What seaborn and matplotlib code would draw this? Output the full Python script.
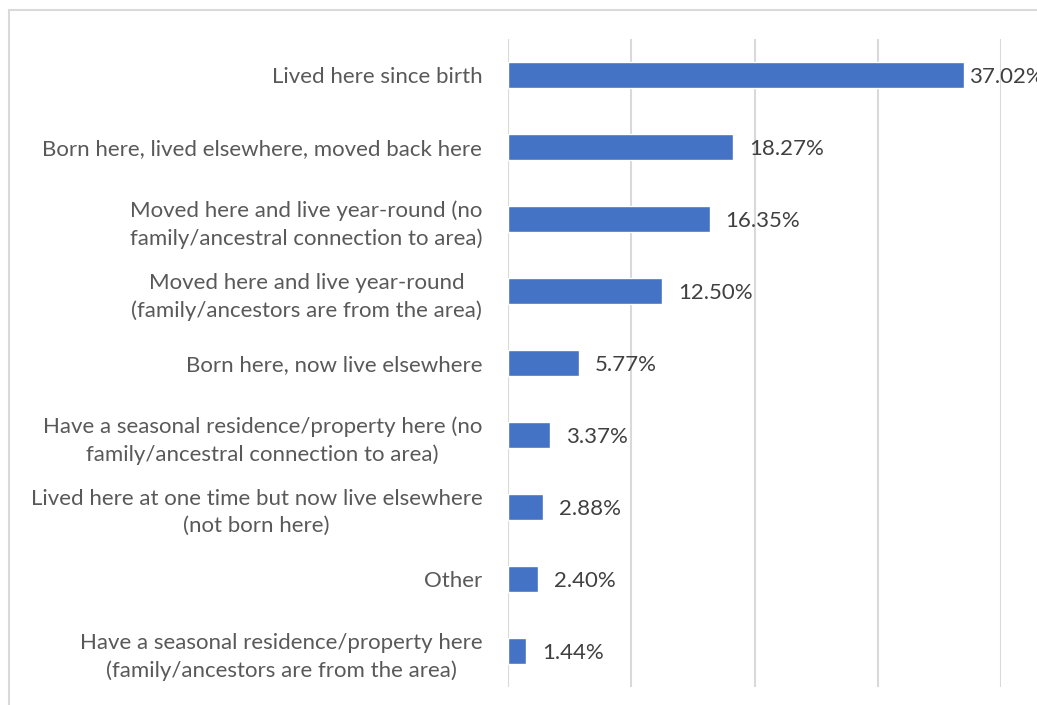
import matplotlib
matplotlib.use("Agg")
import matplotlib.pyplot as plt
from matplotlib.patches import Rectangle
import seaborn as sns
import pandas as pd

categories = [
    "Lived here since birth",
    "Born here, lived elsewhere, moved back here",
    "Moved here and live year-round (no\nfamily/ancestral connection to area)",
    "Moved here and live year-round\n(family/ancestors are from the area)",
    "Born here, now live elsewhere",
    "Have a seasonal residence/property here (no\nfamily/ancestral connection to area)",
    "Lived here at one time but now live elsewhere\n(not born here)",
    "Other",
    "Have a seasonal residence/property here\n(family/ancestors are from the area)",
]
percentages = [37.02, 18.27, 16.35, 12.50, 5.77, 3.37, 2.88, 2.40, 1.44]
value_labels = ["37.02%", "18.27%", "16.35%", "12.50%", "5.77%", "3.37%", "2.88%", "2.40%", "1.44%"]

df = pd.DataFrame({"category": categories, "pct": percentages})

sns.set_theme(style="white")
plt.rcParams["font.family"] = ["Lato", "DejaVu Sans"]

W, H = 1037, 705
fig = plt.figure(figsize=(W / 100, H / 100), dpi=100)
ax = fig.add_axes([508 / W, 1 - 687 / H, (1001 - 508) / W, (687 - 39) / H])

sns.barplot(data=df, x="pct", y="category", orient="h", order=categories,
            color="#4472C4", saturation=1, width=0.37, ax=ax)

XMAX = 40
ax.set_xlim(0, XMAX)
ax.set_ylim(len(categories) - 0.5, -0.5)
ax.set_xticks(range(0, XMAX + 1, 10))
ax.set_xticklabels([])
ax.tick_params(axis="x", length=0)
ax.tick_params(axis="y", length=0, pad=18.5, labelsize=16, labelcolor="#595959")
for t in ax.get_yticklabels():
    t.set_multialignment("center")
    t.set_linespacing(1.45)
ax.set_xlabel("")
ax.set_ylabel("")
ax.grid(axis="x", color="#d9d9d9", linewidth=1.5)
ax.set_axisbelow(True)
for s in ax.spines.values():
    s.set_visible(False)

# value labels just past each bar end
for i, (v, lab) in enumerate(zip(percentages, value_labels)):
    pad = 5 if v > 0.9 * XMAX else 16
    ax.annotate(lab, xy=(v, i), xytext=(pad * 0.72, -2 * 0.72), textcoords="offset points",
                ha="left", va="center", fontsize=16, color="#404040", annotation_clip=False)

# chart-area border
fig.patches.append(Rectangle((9 / W, -0.1), 1.2, 1.1 - 10 / H, transform=fig.transFigure,
                             fill=False, edgecolor="#d9d9d9", linewidth=1.5, clip_on=False))

fig.savefig("out.png", dpi=100, facecolor="white")
